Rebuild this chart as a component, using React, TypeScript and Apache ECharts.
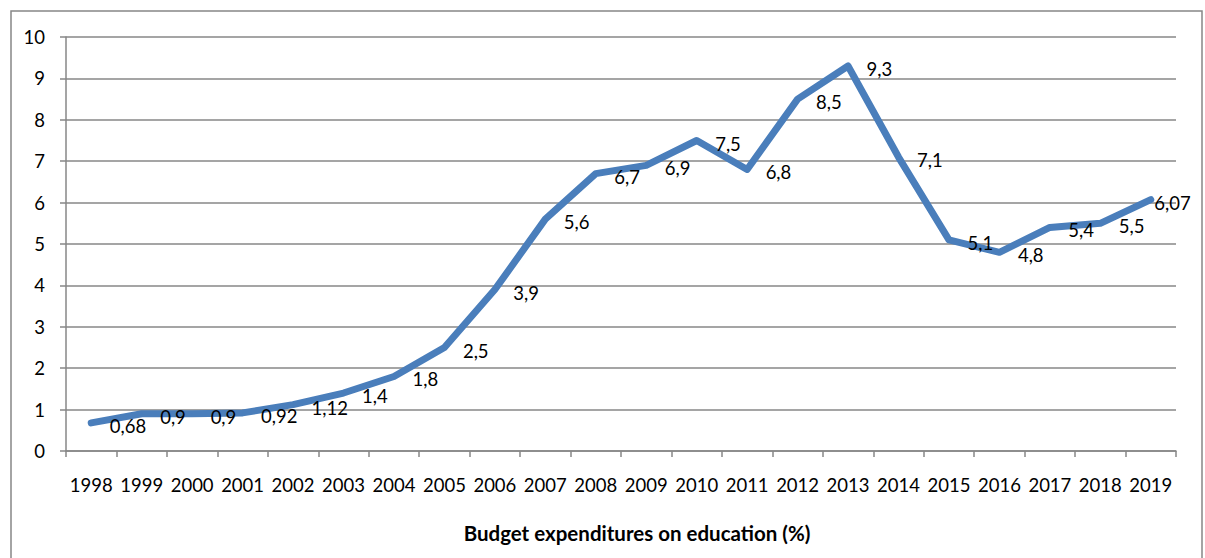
import React, { useEffect, useRef } from "react";
import * as echarts from "echarts";

const years = ["1998","1999","2000","2001","2002","2003","2004","2005","2006","2007","2008","2009","2010","2011","2012","2013","2014","2015","2016","2017","2018","2019"];
const values = [0.68, 0.9, 0.9, 0.92, 1.12, 1.4, 1.8, 2.5, 3.9, 5.6, 6.7, 6.9, 7.5, 6.8, 8.5, 9.3, 7.1, 5.1, 4.8, 5.4, 5.5, 6.07];
const yTicks = { min: 0, max: 10, interval: 1 };
const title = "Budget expenditures on education (%)";

const FONT = "Lato";
const GRAY = "#878787";

export default function App() {
  const ref = useRef<HTMLDivElement>(null);
  useEffect(() => {
    document.body.style.margin = "0";
    const chart = echarts.init(ref.current!, null, { renderer: "svg" });
    const lastIdx = values.length - 1;
    chart.setOption({
      animation: false,
      backgroundColor: "#ffffff",
      textStyle: { fontFamily: FONT },
      grid: { left: 66, right: 29, top: 37, bottom: 107 },
      graphic: [
        {
          type: "rect",
          shape: { x: 11, y: 11, width: 1191, height: 570 },
          style: { fill: "none", stroke: GRAY, lineWidth: 1.5 },
          silent: true,
        },
        {
          type: "text",
          x: 637,
          y: 533,
          style: {
            text: title,
            fontFamily: FONT,
            fontWeight: "bold",
            fontSize: 20.5,
            fill: "#000",
            align: "center",
            verticalAlign: "middle",
          },
        },
      ],
      xAxis: {
        type: "category",
        data: years,
        boundaryGap: true,
        axisLine: { show: true, lineStyle: { color: GRAY, width: 1.5 } },
        axisTick: { show: true, length: 6, lineStyle: { color: GRAY, width: 1.5 } },
        axisLabel: { color: "#000", fontSize: 18.5, fontFamily: FONT, margin: 24, interval: 0 },
        splitLine: { show: false },
      },
      yAxis: {
        type: "value",
        min: yTicks.min,
        max: yTicks.max,
        interval: yTicks.interval,
        axisLine: { show: true, lineStyle: { color: GRAY, width: 1.5 } },
        axisTick: { show: true, length: 6, lineStyle: { color: GRAY, width: 1.5 } },
        axisLabel: { color: "#000", fontSize: 18.5, fontFamily: FONT, margin: 21 },
        splitLine: { show: true, lineStyle: { color: GRAY, width: 1.5 } },
      },
      series: [
        {
          type: "line",
          data: values.map((v, i) =>
            i === lastIdx
              ? { value: v, label: { distance: 3 } }
              : v
          ),
          symbol: "circle",
          symbolSize: 1,
          showSymbol: true,
          lineStyle: { color: "#4a7ebb", width: 7, cap: "round", join: "round" },
          itemStyle: { color: "#4a7ebb" },
          label: {
            show: true,
            position: "right",
            distance: 18,
            offset: [0, 3],
            color: "#000",
            fontSize: 18.5,
            fontFamily: FONT,
            formatter: (p: any) => String(p.value).replace(".", ","),
          },
        },
      ],
    });
    return () => chart.dispose();
  }, []);
  return <div ref={ref} style={{ width: 1205, height: 558 }} />;
}
